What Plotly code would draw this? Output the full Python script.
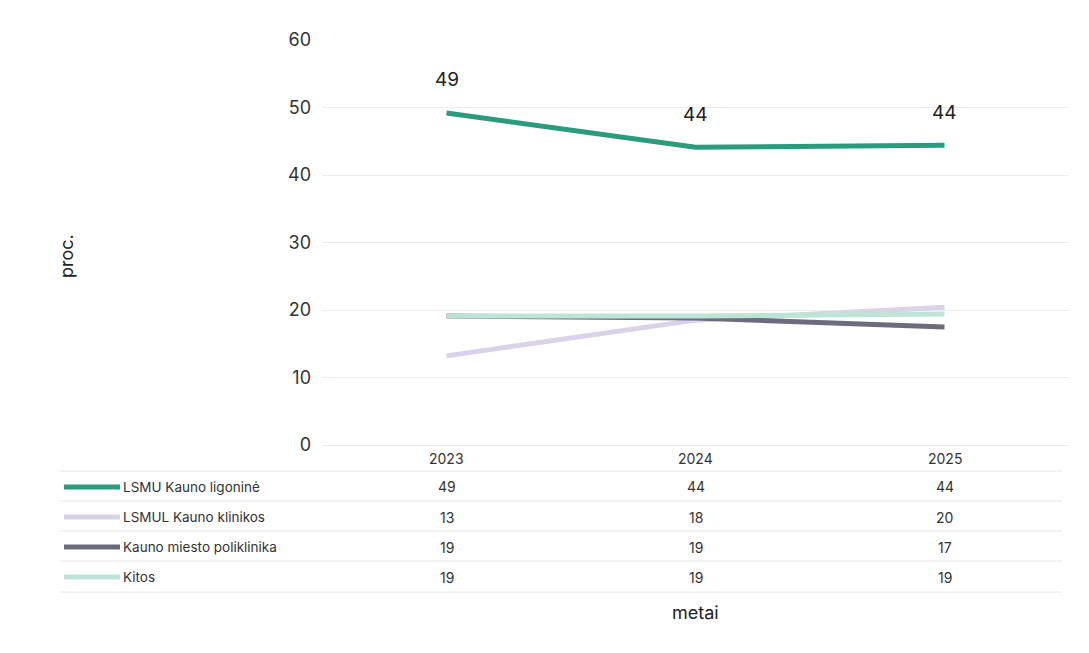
import plotly.graph_objects as go

years = ["2023", "2024", "2025"]
series_names = ["LSMU Kauno ligoninė", "LSMUL Kauno klinikos", "Kauno miesto poliklinika", "Kitos"]
lsmu = [49.2, 44.1, 44.4]
lsmul = [13.2, 18.5, 20.4]
poliklinika = [19.1, 18.8, 17.5]
kitos = [19.1, 19.1, 19.4]
table_lsmu = ["49", "44", "44"]
table_lsmul = ["13", "18", "20"]
table_poliklinika = ["19", "19", "17"]
table_kitos = ["19", "19", "19"]
labels_lsmu = ["49", "44", "44"]
y_ticks = [0, 10, 20, 30, 40, 50, 60]

colors = ["#2a9b7d", "#d9d2e8", "#6c6c7c", "#bfe4d6"]
values = [lsmu, lsmul, poliklinika, kitos]
tables = [table_lsmu, table_lsmul, table_poliklinika, table_kitos]

FONT = "Inter"
OFF = 8  # page body margin
fig = go.Figure()
for i in [1, 2, 3, 0]:
    fig.add_trace(go.Scatter(x=years, y=values[i], mode="lines", name=series_names[i],
                             line=dict(color=colors[i], width=5), showlegend=False))

for xi, (y, t) in enumerate(zip(lsmu, labels_lsmu)):
    fig.add_annotation(x=xi, y=y, xref="x", yref="y", text=t, showarrow=False,
                       yshift=33, font=dict(size=19, color="#222", family=FONT))

plot_left = 322
plot_w = 1069 - 322
plot_bottom = 445
plot_h = 445 - 40
def py(pix):
    return (plot_bottom - pix) / plot_h
def px(pix):
    return (pix - plot_left) / plot_w

for xi, x in enumerate(years):
    fig.add_annotation(x=xi, y=py(458), xref="x", yref="paper", text=x, showarrow=False,
                       yanchor="middle", font=dict(size=14, color="#333", family=FONT))
row_y = [487, 517, 547, 577]
for r in range(4):
    for xi, t in enumerate(tables[r]):
        fig.add_annotation(x=xi, y=py(row_y[r]), xref="x", yref="paper", text=t, showarrow=False,
                           yanchor="middle", font=dict(size=14, color="#333", family=FONT))
    fig.add_shape(type="line", xref="paper", yref="paper",
                  x0=px(64), x1=px(120), y0=py(row_y[r]), y1=py(row_y[r]),
                  line=dict(color=colors[r], width=5))
    fig.add_annotation(x=px(121), y=py(row_y[r]), xref="paper", yref="paper",
                       text=series_names[r], showarrow=False, xanchor="left", yanchor="middle",
                       font=dict(size=13.5, color="#333", family=FONT))

for yl in [471, 501, 531, 561, 592]:
    fig.add_shape(type="line", xref="paper", yref="paper",
                  x0=px(60), x1=px(1062), y0=py(yl), y1=py(yl),
                  line=dict(color="#e6e6e6", width=1))

fig.add_annotation(x=1, y=py(612), xref="x", yref="paper", text="metai", showarrow=False,
                   yanchor="middle", font=dict(size=18, color="#222", family=FONT))
fig.add_annotation(x=px(66), y=py(256), xref="paper", yref="paper", text="proc.",
                   showarrow=False, textangle=-90, xanchor="center", yanchor="middle",
                   font=dict(size=18, color="#222", family=FONT))

fig.update_layout(
    width=1089, height=653,
    margin=dict(l=plot_left - OFF, r=1089 - 1069 + OFF, t=40 - OFF, b=653 - 445 + OFF),
    paper_bgcolor="white", plot_bgcolor="white",
    xaxis=dict(type="category", showticklabels=False, showgrid=False, zeroline=False,
               showline=False, range=[-0.5, 2.5]),
    yaxis=dict(range=[0, 60], tickvals=y_ticks, showgrid=True, gridcolor="#ececec",
               zeroline=True, zerolinecolor="#ececec", zerolinewidth=1, showline=False,
               ticklabelstandoff=10,
               tickfont=dict(size=18, color="#333", family=FONT)),
)
fig.write_html("out.html")
